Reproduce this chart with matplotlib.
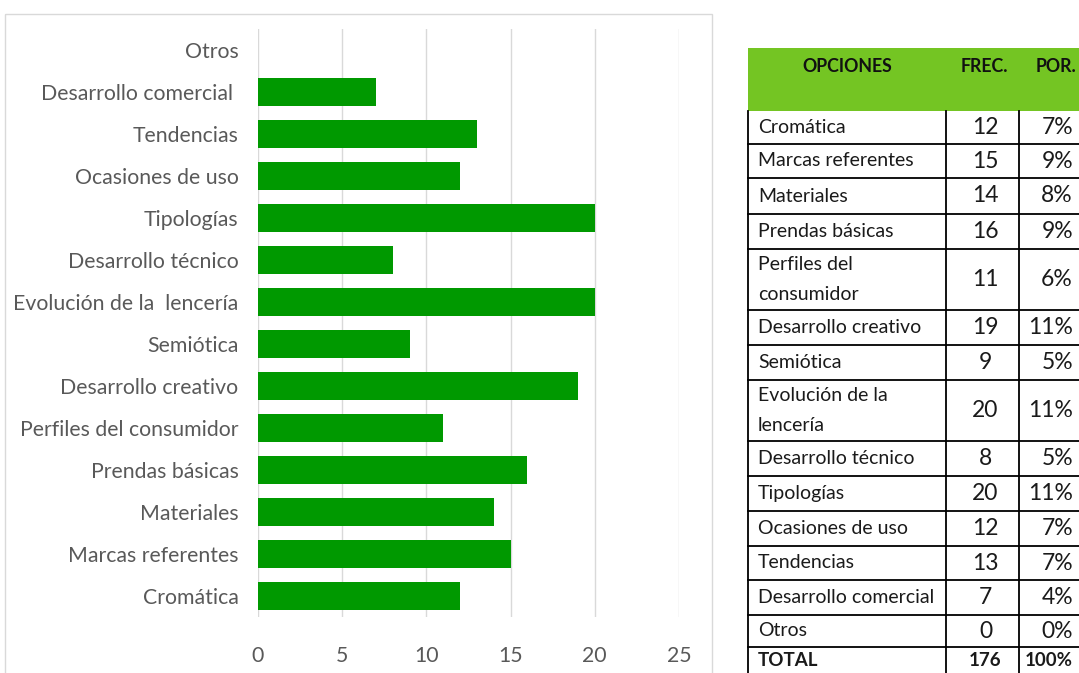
import matplotlib.pyplot as plt
from matplotlib.patches import Rectangle

# ---------------------------------------------------------
# Data
# ---------------------------------------------------------

# chart categories, bottom to top
categorias = ["Cromática", "Marcas referentes", "Materiales", "Prendas básicas",
              "Perfiles del consumidor", "Desarrollo creativo", "Semiótica",
              "Evolución de la  lencería", "Desarrollo técnico", "Tipologías",
              "Ocasiones de uso", "Tendencias", "Desarrollo comercial ", "Otros"]
frecuencias = [12, 15, 14, 16, 11, 19, 9, 20, 8, 20, 12, 13, 7, 0]

# table rows
opciones = ["Cromática", "Marcas referentes", "Materiales", "Prendas básicas",
            "Perfiles del\nconsumidor", "Desarrollo creativo", "Semiótica",
            "Evolución de la\nlencería", "Desarrollo técnico", "Tipologías",
            "Ocasiones de uso", "Tendencias", "Desarrollo comercial", "Otros"]
frec_tabla = ["12", "15", "14", "16", "11", "19", "9", "20", "8", "20",
              "12", "13", "7", "0"]
porcentajes = ["7%", "9%", "8%", "9%", "6%", "11%", "5%", "11%", "5%", "11%",
               "7%", "7%", "4%", "0%"]
total_frec = "176"
total_por = "100%"

FONT = ["Lato", "DejaVu Sans"]
plt.rcParams["font.family"] = FONT

W, H = 1079, 673
fig = plt.figure(figsize=(W / 100, H / 100), dpi=100)

# ---------------------------------------------------------
# Background layer in pixel coordinates (chart frame + table)
# ---------------------------------------------------------
bg = fig.add_axes([0, 0, 1, 1])
bg.set_xlim(0, W)
bg.set_ylim(H, 0)
bg.axis("off")

# chart area frame
bg.add_patch(Rectangle((5, 14), 707, 700, fill=False, edgecolor="#d9d9d9", lw=1))

# ---------------------------------------------------------
# Bar chart
# ---------------------------------------------------------
ax = fig.add_axes([258 / W, 1 - 617 / H, (679 - 258) / W, 588 / H])
ypos = range(len(categorias))
ax.barh(ypos, frecuencias, height=0.66, color="#009900",
        edgecolor="none", zorder=3)
ax.set_xlim(0, 25)
ax.set_ylim(-0.5, len(categorias) - 0.5)
ax.set_xticks([0, 5, 10, 15, 20, 25])
ax.set_yticks(list(ypos))
ax.set_yticklabels(categorias)
ax.grid(axis="x", color="#d9d9d9", lw=1, zorder=0)
for s in ax.spines.values():
    s.set_visible(False)
ax.tick_params(axis="both", length=0, labelsize=15.3, colors="#595959")
ax.tick_params(axis="x", pad=21)
ax.tick_params(axis="y", pad=14)

# ---------------------------------------------------------
# Table
# ---------------------------------------------------------
x_left, x_c1, x_c2, x_right = 748, 946, 1019, 1079
header_top, header_bot = 48, 111
row_lines = [111, 144, 178, 214, 249, 310, 345, 380, 441, 476, 511, 546,
             580, 615, 647, 700]

bg.add_patch(Rectangle((x_left, header_top), x_right - x_left + 5,
                       header_bot - header_top, color="#74c523", lw=0))
hdr = dict(va="center", fontweight="bold", fontsize=12.8, color="#111111")
bg.text((x_left + x_c1) / 2, 67, "OPCIONES", ha="center", **hdr)
bg.text((x_c1 + x_c2) / 2 + 2, 67, "FREC.", ha="center", **hdr)
bg.text(1076, 67, "POR.", ha="right", **hdr)

# grid lines
for y in row_lines[1:-1]:
    bg.plot([x_left, x_right], [y, y], color="black", lw=1.3)
for x in (x_left, x_c1, x_c2):
    bg.plot([x, x], [header_bot, H], color="black", lw=1.3)

names = opciones + ["TOTAL"]
frs = frec_tabla + [total_frec]
pors = porcentajes + [total_por]
for i, (n, f, p) in enumerate(zip(names, frs, pors)):
    y0, y1 = row_lines[i], row_lines[i + 1]
    if n == "TOTAL":
        yc, w, fs_name, fs_num = 661, "bold", 13.5, 13.5
    else:
        yc, w, fs_name, fs_num = (y0 + y1) / 2, "normal", 14, 16.5
    if "\n" in n:
        a, b = n.split("\n")
        bg.text(758, yc - 15, a, ha="left", va="center", fontsize=fs_name,
                color="#1a1a1a")
        bg.text(758, yc + 15, b, ha="left", va="center", fontsize=fs_name,
                color="#1a1a1a")
    else:
        bg.text(758, yc, n, ha="left", va="center", fontsize=fs_name,
                fontweight=w, color="#1a1a1a")
    bg.text((x_c1 + x_c2) / 2 + 3, yc, f, ha="center", va="center",
            fontsize=fs_num, fontweight=w, color="#1a1a1a")
    bg.text(1073, yc, p, ha="right", va="center",
            fontsize=fs_num, fontweight=w, color="#1a1a1a")

fig.savefig("out.png", dpi=100)
